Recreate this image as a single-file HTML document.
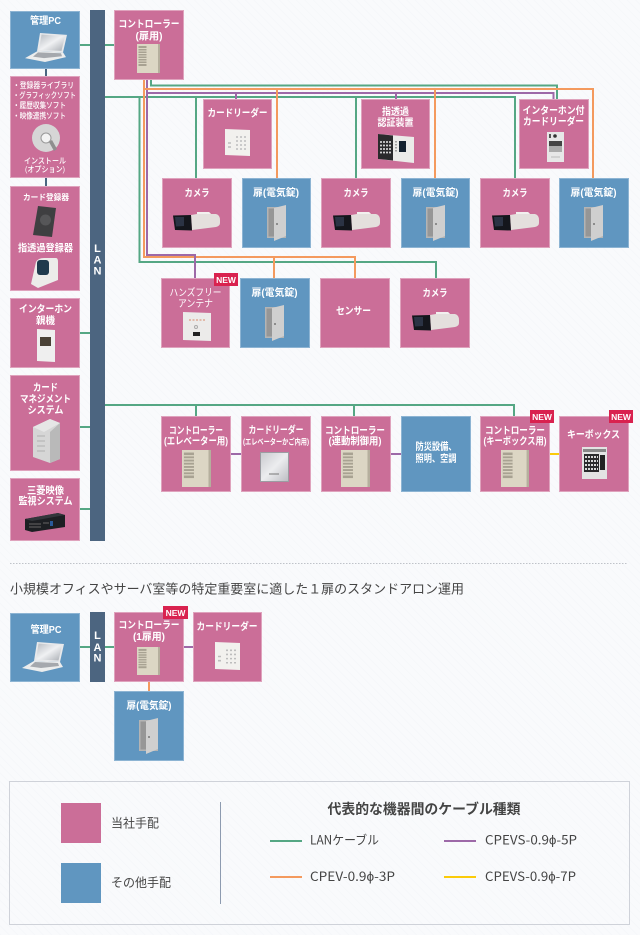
<!DOCTYPE html>
<html lang="ja"><head><meta charset="utf-8"><title>構成図</title>
<style>
html,body{margin:0;padding:0;background:#f9fafc}
svg{display:block}
text{font-family:"Liberation Sans","Noto Sans CJK JP",sans-serif}
.w{fill:#fff;font-weight:700;font-size:10px;text-anchor:middle}
.l{fill:#fff;font-weight:500;font-size:8px}
.n{fill:#fff;font-weight:700;font-size:8.5px;text-anchor:middle}
.a{fill:#fff;font-weight:700;font-size:11px;text-anchor:middle}
.d{fill:#444;font-size:12.5px;font-family:"Noto Sans CJK JP","Liberation Sans",sans-serif}
.p{fill:#cb6e98;stroke:#dfa3bd;stroke-width:1}
.b{fill:#6096c0;stroke:#8db4d3;stroke-width:1}
.g,.o,.u,.y,.k{fill:none;stroke-width:2}
.g{stroke:#55a784}.o{stroke:#f49a5e}.u{stroke:#9d69a8}.y{stroke:#fbcb0a}.k{stroke:#4a6580}
</style></head><body>
<svg xmlns="http://www.w3.org/2000/svg" width="640" height="935" viewBox="0 0 640 935">
<defs>
<pattern id="bg" width="6" height="6" patternUnits="userSpaceOnUse" patternTransform="rotate(45)"><rect width="6" height="6" fill="#f9fafc"/><rect width="6" height="1" fill="#f6f7fa"/></pattern>
<linearGradient id="scr" x1="0" y1="0" x2="1" y2="1"><stop offset="0" stop-color="#b8bcc2"/><stop offset=".5" stop-color="#f0f1f3"/><stop offset="1" stop-color="#a8acb2"/></linearGradient>
<linearGradient id="sil" x1="0" y1="0" x2="1" y2="1"><stop offset="0" stop-color="#c9c9ce"/><stop offset=".5" stop-color="#ecedef"/><stop offset="1" stop-color="#bcbcc2"/></linearGradient>
<symbol id="laptop" viewBox="0 0 42 30" preserveAspectRatio="none">
<polygon points="15,0 42,2 38,20 12,19" fill="#e8e9eb"/><polygon points="16.500,1.500 40,3.500 36.500,18.500 14,17.500" fill="url(#scr)"/>
<polygon points="12,19 38,20 41,25 20,30 0,26" fill="#eceded"/><polygon points="13,20 36,21 37,24 19,26 8,24.500" fill="#a5a8ad"/></symbol>
<symbol id="door" viewBox="0 0 20 36" preserveAspectRatio="none">
<rect x="0" y="2" width="19" height="31" fill="#b4b4b4"/><rect x="1.500" y="3.500" width="7" height="28" fill="#969696"/>
<polygon points="7,3 19,0 19,31 7,36" fill="#cfcfcf"/><circle cx="10" cy="19" r="1" fill="#777"/></symbol>
<symbol id="ctrl" viewBox="0 0 23 29" preserveAspectRatio="none">
<rect x="0" y="0" width="23" height="29" fill="#dcd6c4"/><rect x="21" y="0" width="2" height="29" fill="#b5af9d"/>
<rect x="1.500" y="2" width="8" height="20" fill="#a8a292"/>
<path d="M1.500 4.500h8M1.500 7h8M1.500 9.500h8M1.500 12h8M1.500 14.500h8M1.500 17h8M1.500 19.500h8" stroke="#dcd6c4" stroke-width="1"/></symbol>
<symbol id="reader" viewBox="0 0 25 27" preserveAspectRatio="none">
<polygon points="0,0 25,1 25,27 0,26" fill="#f2f1ee"/>
<path d="M11 8h2M15 8h2M19 8h2M11 12h2M15 12h2M19 12h2M11 16h2M15 16h2M19 16h2M11 20h2M15 20h2M19 20h2M3 14h3M3 18h3" stroke="#bdbdbd" stroke-width="1.500"/></symbol>
<symbol id="cam" viewBox="0 0 48 20" preserveAspectRatio="none">
<path d="M18 4 L24 3 V1 H36 L38 3 H43 Q47 4 47 9 V12 Q47 15 43 16 L19 19 Z" fill="#e4dfdd"/>
<path d="M24 1H36L38 3H24Z" fill="#f2f0ef"/>
<polygon points="0,4.500 18,4 19,19.500 2,19" fill="#14161c"/><polygon points="2,6 11,6 11,15 3,15.500" fill="#2b3344"/></symbol>
<symbol id="finger" viewBox="0 0 36 29" preserveAspectRatio="none">
<polygon points="0,0 36,3 36,29 0,25" fill="#ebebe9"/><polygon points="0,0 15,1.500 15,26.500 0,25" fill="#2a2a2c"/>
<path d="M2 8h11M2 11.500h11M2 15h11M2 18.500h11" stroke="#cfcfcf" stroke-width="1.800" stroke-dasharray="2 1"/>
<rect x="21" y="7" width="7" height="11" fill="#14222f"/><path d="M18 7v11" stroke="#888" stroke-width="1.500" stroke-dasharray="1.500 1.500"/></symbol>
<symbol id="icr" viewBox="0 0 17 30" preserveAspectRatio="none">
<rect width="17" height="30" fill="#e7e7e7"/><rect x="2" y="2" width="2" height="4" fill="#555"/><circle cx="8" cy="4" r="1.800" fill="#333"/>
<rect x="2" y="9" width="13" height="5" fill="#444"/><rect x="2" y="14" width="13" height="6" fill="#aaa"/><path d="M4 25h9" stroke="#bbb"/></symbol>
</defs>
<rect width="640" height="935" fill="url(#bg)"/>

<!-- wires -->
<g>
<path class="k" d="M46 69V76M46 178V186"/>
<path class="g" d="M80 45H90M105 45H114M151 79V85.500H557V99"/>
<path class="g" d="M139.500 97V262H436V278"/>
<path class="g" d="M105 97H515V178M196 97V178M356 97V178"/>
<path class="o" d="M144 79V257H355V278M274 257V278"/>
<path class="u" d="M147 79V255H195V278"/>
<path class="u" d="M147 93H553.500V99M236 93V99M396 93V99"/>
<path class="o" d="M144 89H593V178M277 89V178M435 89V178"/>
<path class="g" d="M80 333H90M80 427H90M80 509H90"/>
<path class="g" d="M105 405H514V416M196 405V416M354 405V416"/>
<path class="u" d="M231 454H241M391 454H401"/><path class="y" d="M550 454H559"/>
<path class="g" d="M80 647H90M105 647H114"/><path class="u" d="M184 647H193"/><path class="o" d="M149 682V691"/>
</g>

<!-- LAN -->
<rect x="90" y="10" width="15" height="531" fill="#4c6580"/>
<rect x="90" y="612" width="15" height="70" fill="#4c6580"/>
<text class="a" x="97.500" y="252">L</text><text class="a" x="97.500" y="263.500">A</text><text class="a" x="97.500" y="274.500">N</text>
<text class="a" x="97.500" y="639">L</text><text class="a" x="97.500" y="651">A</text><text class="a" x="97.500" y="661.500">N</text>

<!-- boxes -->
<rect class="b" x="10.500" y="11.500" width="69" height="57"/>
<rect class="p" x="10.500" y="76.500" width="69" height="101"/>
<rect class="p" x="10.500" y="186.500" width="69" height="104"/>
<rect class="p" x="10.500" y="298.500" width="69" height="69"/>
<rect class="p" x="10.500" y="375.500" width="69" height="95"/>
<rect class="p" x="10.500" y="478.500" width="69" height="62"/>
<rect class="p" x="114.500" y="10.500" width="69" height="69"/>
<rect class="p" x="203.500" y="99.500" width="68" height="69"/>
<rect class="p" x="361.500" y="99.500" width="68" height="69"/>
<rect class="p" x="519.500" y="99.500" width="69" height="69"/>
<rect class="p" x="162.500" y="178.500" width="69" height="69"/>
<rect class="b" x="242.500" y="178.500" width="68" height="69"/>
<rect class="p" x="321.500" y="178.500" width="69" height="69"/>
<rect class="b" x="401.500" y="178.500" width="68" height="69"/>
<rect class="p" x="480.500" y="178.500" width="69" height="69"/>
<rect class="b" x="559.500" y="178.500" width="69" height="69"/>
<rect class="p" x="161.500" y="278.500" width="68" height="69"/>
<rect class="b" x="240.500" y="278.500" width="69" height="69"/>
<rect class="p" x="320.500" y="278.500" width="69" height="69"/>
<rect class="p" x="400.500" y="278.500" width="69" height="69"/>
<rect class="p" x="161.500" y="416.500" width="69" height="75"/>
<rect class="p" x="241.500" y="416.500" width="69" height="75"/>
<rect class="p" x="321.500" y="416.500" width="69" height="75"/>
<rect class="b" x="401.500" y="416.500" width="69" height="75"/>
<rect class="p" x="480.500" y="416.500" width="69" height="75"/>
<rect class="p" x="559.500" y="416.500" width="69" height="75"/>
<rect class="b" x="10.500" y="613.500" width="69" height="68"/>
<rect class="p" x="114.500" y="612.500" width="69" height="69"/>
<rect class="p" x="193.500" y="612.500" width="68" height="69"/>
<rect class="b" x="114.500" y="691.500" width="69" height="69"/>

<!-- icons -->
<use href="#laptop" x="25" y="33" width="42" height="29"/>
<use href="#laptop" x="22" y="642" width="42" height="30"/>
<use href="#ctrl" x="137" y="44" width="23" height="29"/>
<use href="#ctrl" x="137" y="647" width="23" height="28"/>
<use href="#ctrl" x="182" y="450" width="29" height="37"/>
<use href="#ctrl" x="341" y="450" width="29" height="37"/>
<use href="#ctrl" x="501" y="450" width="28" height="37"/>
<use href="#reader" x="225" y="129" width="25" height="27"/>
<use href="#reader" x="215" y="642" width="25" height="28"/>
<use href="#cam" x="173" y="211" width="48" height="20"/>
<use href="#cam" x="333" y="211" width="48" height="20"/>
<use href="#cam" x="492" y="211" width="48" height="20"/>
<use href="#cam" x="412" y="311" width="48" height="20"/>
<use href="#door" x="267" y="205" width="20" height="36"/>
<use href="#door" x="426" y="205" width="20" height="36"/>
<use href="#door" x="584" y="205" width="20" height="36"/>
<use href="#door" x="265" y="305" width="20" height="36"/>
<use href="#door" x="139" y="718" width="20" height="36"/>
<use href="#finger" x="378" y="134" width="36" height="29"/>
<use href="#icr" x="547" y="132" width="17" height="30"/>
<!-- CD -->
<circle cx="46" cy="138" r="14" fill="#d6d6d6"/><circle cx="46" cy="138" r="5" fill="#f3f3f3" stroke="#999" stroke-width="1"/>
<polygon points="49,142 52,140 57,149 54,151" fill="#8e8e8e"/>
<!-- card registrar -->
<polygon points="38,206 56,208 52,237 33,235" fill="#3f3f41"/><circle cx="45.500" cy="220" r="5.500" fill="#565658"/>
<!-- finger registrar -->
<path d="M31 284 L36 262 Q38 258 44 258 H56 Q58 258 58 262 V280 L38 288 Z" fill="#ececea"/><rect x="37" y="260" width="12" height="15" rx="3" fill="#1f3a4d"/>
<!-- intercom master -->
<polygon points="37,329 55,330 55,362 37,361" fill="#efefef"/><rect x="40" y="337" width="11" height="9" fill="#4a4237"/>
<!-- server -->
<polygon points="33,427 50,419 60,423 60,459 50,463 33,457" fill="#d6d6d6"/><polygon points="33,427 50,419 60,423 44,432" fill="#e6e6e6"/><polygon points="50,432 60,423 60,459 50,463" fill="#b9b9b9"/>
<path d="M37 436l8 0M37 441l8 0M37 446l8 0M37 451l8 0" stroke="#b0b0b0" stroke-width="1"/>
<!-- DVR -->
<polygon points="25,519 58,513 65,515 65,527 32,532 25,530" fill="#1d1f23"/><polygon points="25,519 58,513 65,515 32,521" fill="#33363b"/>
<path d="M29 524h12M29 527h12M43 523h6" stroke="#666" stroke-width="1"/><rect x="50" y="521" width="3" height="5" fill="#2a5a9a"/>
<!-- handsfree -->
<polygon points="183,312 211,313 211,341 183,340" fill="#ecebea"/><path d="M189 320h16" stroke="#d88a6a" stroke-width="1" stroke-dasharray="2 1.500"/><rect x="193" y="332" width="7" height="4" fill="#222"/><circle cx="196" cy="327" r="1.500" fill="none" stroke="#aaa"/>
<!-- elevator reader -->
<rect x="260.500" y="452.500" width="28" height="29" fill="url(#sil)" stroke="#9c9ca2" stroke-width="1"/><path d="M269 474h10" stroke="#777" stroke-width="1"/>
<!-- keybox -->
<rect x="582" y="447" width="25" height="32" fill="#e3e3e3"/><rect x="583" y="449" width="23" height="3" fill="#888"/><rect x="584" y="454" width="15" height="18" fill="#2a2a2c"/>
<path d="M585 457h13M585 461h13M585 465h13M585 469h13" stroke="#d8d8d8" stroke-width="2" stroke-dasharray="2 1"/><rect x="600" y="455" width="5" height="15" fill="#222"/>

<!-- labels -->
<text class="w" x="45.500" y="24" textLength="31" lengthAdjust="spacingAndGlyphs">管理PC</text>
<text class="w" x="149" y="27.500" textLength="61" lengthAdjust="spacingAndGlyphs">コントローラー</text>
<text class="w" x="149" y="39.500" textLength="27" lengthAdjust="spacingAndGlyphs">(扉用)</text>
<text class="l" x="13" y="88" textLength="61" lengthAdjust="spacingAndGlyphs">・登録器ライブラリ</text>
<text class="l" x="13" y="98" textLength="63" lengthAdjust="spacingAndGlyphs">・グラフィックソフト</text>
<text class="l" x="13" y="108" textLength="53" lengthAdjust="spacingAndGlyphs">・履歴収集ソフト</text>
<text class="l" x="13" y="118.500" textLength="53" lengthAdjust="spacingAndGlyphs">・映像連携ソフト</text>
<text class="l" text-anchor="middle" x="45" y="163.500" textLength="42" lengthAdjust="spacingAndGlyphs">インストール</text>
<text class="l" text-anchor="middle" x="45" y="172" textLength="40" lengthAdjust="spacingAndGlyphs">(オプション)</text>
<text class="w" x="46" y="200" style="font-size:8px" textLength="46" lengthAdjust="spacingAndGlyphs">カード登録器</text>
<text class="w" x="45.500" y="251.500" textLength="55" lengthAdjust="spacingAndGlyphs">指透過登録器</text>
<text class="w" x="45.500" y="312.500" textLength="53" lengthAdjust="spacingAndGlyphs">インターホン</text>
<text class="w" x="45.500" y="324" textLength="19" lengthAdjust="spacingAndGlyphs">親機</text>
<text class="w" x="45.500" y="391" textLength="25" lengthAdjust="spacingAndGlyphs">カード</text>
<text class="w" x="45.500" y="402.500" textLength="51" lengthAdjust="spacingAndGlyphs">マネジメント</text>
<text class="w" x="45.500" y="413.500" textLength="36" lengthAdjust="spacingAndGlyphs">システム</text>
<text class="w" x="45.500" y="494" textLength="37" lengthAdjust="spacingAndGlyphs">三菱映像</text>
<text class="w" x="45.500" y="504.500" textLength="54" lengthAdjust="spacingAndGlyphs">監視システム</text>
<text class="w" x="237.500" y="116.500" textLength="60" lengthAdjust="spacingAndGlyphs">カードリーダー</text>
<text class="w" x="197" y="196.500" textLength="25" lengthAdjust="spacingAndGlyphs">カメラ</text>
<text class="w" x="276" y="196" textLength="46" lengthAdjust="spacingAndGlyphs">扉(電気錠)</text>
<text class="w" x="395.500" y="115" textLength="27" lengthAdjust="spacingAndGlyphs">指透過</text>
<text class="w" x="395.500" y="126" textLength="36" lengthAdjust="spacingAndGlyphs">認証装置</text>
<text class="w" x="356" y="196.500" textLength="25" lengthAdjust="spacingAndGlyphs">カメラ</text>
<text class="w" x="435.500" y="196" textLength="46" lengthAdjust="spacingAndGlyphs">扉(電気錠)</text>
<text class="w" x="515" y="196.500" textLength="25" lengthAdjust="spacingAndGlyphs">カメラ</text>
<text class="w" x="593.500" y="196" textLength="46" lengthAdjust="spacingAndGlyphs">扉(電気錠)</text>
<text class="w" x="553.500" y="114" textLength="62" lengthAdjust="spacingAndGlyphs">インターホン付</text>
<text class="w" x="553.500" y="125" textLength="61" lengthAdjust="spacingAndGlyphs">カードリーダー</text>
<text class="w" x="195.500" y="296" style="font-weight:400" textLength="52" lengthAdjust="spacingAndGlyphs">ハンズフリー</text>
<text class="w" x="195.500" y="307" style="font-weight:400" textLength="35" lengthAdjust="spacingAndGlyphs">アンテナ</text>
<text class="w" x="274.500" y="296" textLength="46" lengthAdjust="spacingAndGlyphs">扉(電気錠)</text>
<text class="w" x="353.500" y="314.500" textLength="35" lengthAdjust="spacingAndGlyphs">センサー</text>
<text class="w" x="435" y="296.500" textLength="25" lengthAdjust="spacingAndGlyphs">カメラ</text>
<text class="w" x="196" y="434" textLength="54" lengthAdjust="spacingAndGlyphs">コントローラー</text>
<text class="w" x="196" y="444.500" textLength="64" lengthAdjust="spacingAndGlyphs">(エレベーター用)</text>
<text class="w" x="276" y="433.500" textLength="55" lengthAdjust="spacingAndGlyphs">カードリーダー</text>
<text class="w" x="276" y="444.500" style="font-size:8px" textLength="66" lengthAdjust="spacingAndGlyphs">(エレベーターかご内用)</text>
<text class="w" x="355" y="434" textLength="60" lengthAdjust="spacingAndGlyphs">コントローラー</text>
<text class="w" x="355" y="444.500" textLength="53" lengthAdjust="spacingAndGlyphs">(連動制御用)</text>
<text class="w" x="436" y="450" textLength="41" lengthAdjust="spacingAndGlyphs">防災設備、</text>
<text class="w" x="436" y="462" textLength="41" lengthAdjust="spacingAndGlyphs">照明、空調</text>
<text class="w" x="515" y="434" textLength="60" lengthAdjust="spacingAndGlyphs">コントローラー</text>
<text class="w" x="515" y="444.500" textLength="63" lengthAdjust="spacingAndGlyphs">(キーボックス用)</text>
<text class="w" x="593.500" y="438" textLength="53" lengthAdjust="spacingAndGlyphs">キーボックス</text>
<text class="w" x="46" y="633" textLength="31" lengthAdjust="spacingAndGlyphs">管理PC</text>
<text class="w" x="149" y="628.500" textLength="61" lengthAdjust="spacingAndGlyphs">コントローラー</text>
<text class="w" x="149" y="640" textLength="32" lengthAdjust="spacingAndGlyphs">(1扉用)</text>
<text class="w" x="227" y="630" textLength="61" lengthAdjust="spacingAndGlyphs">カードリーダー</text>
<text class="w" x="149" y="709" textLength="45" lengthAdjust="spacingAndGlyphs">扉(電気錠)</text>

<!-- NEW badges -->
<rect x="214" y="273" width="24" height="13" fill="#d9224f"/><text class="n" x="226" y="282.800">NEW</text>
<rect x="530" y="410" width="24" height="13" fill="#d9224f"/><text class="n" x="542" y="419.800">NEW</text>
<rect x="609" y="410" width="24" height="13" fill="#d9224f"/><text class="n" x="621" y="419.800">NEW</text>
<rect x="163" y="606" width="25" height="13" fill="#d9224f"/><text class="n" x="175.500" y="615.800">NEW</text>

<!-- separator + heading -->
<line x1="10" y1="563.500" x2="628" y2="563.500" stroke="#bfc3c9" stroke-width="1" stroke-dasharray="1.500 1.500"/>
<text x="10" y="593.500" style="font-size:13px;fill:#444" textLength="454" lengthAdjust="spacingAndGlyphs">小規模オフィスやサーバ室等の特定重要室に適した１扉のスタンドアロン運用</text>

<!-- legend -->
<rect x="9.500" y="781.500" width="620" height="143" fill="none" stroke="#cfd2d9" stroke-width="1"/>
<rect x="61" y="803" width="40" height="40" fill="#cb6e98"/>
<rect x="61" y="863" width="40" height="40" fill="#6096c0"/>
<text class="d" x="111" y="827.500" textLength="48" lengthAdjust="spacingAndGlyphs">当社手配</text>
<text class="d" x="111" y="887" textLength="60" lengthAdjust="spacingAndGlyphs">その他手配</text>
<line x1="220.500" y1="802" x2="220.500" y2="904" stroke="#8d9bb0" stroke-width="1"/>
<text x="424" y="814" style="font-size:14px;font-weight:700;fill:#444;text-anchor:middle" textLength="193" lengthAdjust="spacingAndGlyphs">代表的な機器間のケーブル種類</text>
<path class="g" d="M270 841H302"/><path class="o" d="M270 877H302"/>
<path class="u" d="M444 841H476"/><path class="y" d="M444 877H476"/>
<text class="d" x="310" y="844.500" textLength="69" lengthAdjust="spacingAndGlyphs">LANケーブル</text>
<text class="d" x="310" y="881" textLength="85" lengthAdjust="spacingAndGlyphs">CPEV-0.9ϕ-3P</text>
<text class="d" x="485" y="844.500" textLength="92" lengthAdjust="spacingAndGlyphs">CPEVS-0.9ϕ-5P</text>
<text class="d" x="485" y="881" textLength="91" lengthAdjust="spacingAndGlyphs">CPEVS-0.9ϕ-7P</text>
</svg>
</body></html>
